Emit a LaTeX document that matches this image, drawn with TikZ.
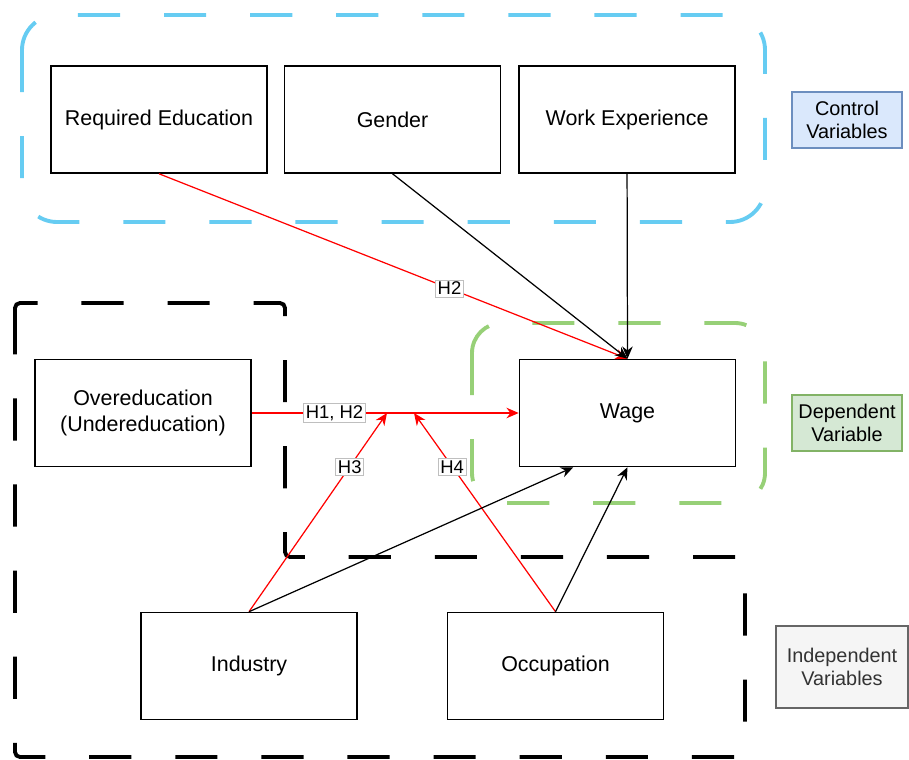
\documentclass[tikz,border=0pt]{standalone}
\usepackage{fontspec}
\setmainfont{Liberation Sans}
\usepackage{xcolor}
\usetikzlibrary{arrows.meta, positioning}
\definecolor{ctrlblue}{RGB}{102,204,242}
\definecolor{depgreen}{RGB}{151,208,119}
\definecolor{ctrlfill}{RGB}{218,232,252}
\definecolor{ctrldraw}{RGB}{108,142,191}
\definecolor{depfill}{RGB}{213,232,212}
\definecolor{depdraw}{RGB}{130,179,102}
\definecolor{indfill}{RGB}{245,245,245}
\definecolor{inddraw}{RGB}{102,102,102}
\definecolor{indtext}{RGB}{51,51,51}

\begin{document}
\begin{tikzpicture}[x=0.02cm, y=-0.02cm,
    font=\fontsize{12.2}{14.4}\selectfont,
    box/.style={rectangle, draw, line width=0.9pt, fill=white, minimum width=4.32cm, minimum height=2.14cm, align=center},
    legend/.style={rectangle, draw, line width=0.6pt, align=center, inner sep=1.5pt, font=\fontsize{11.3}{13.3}\selectfont},
    arrow/.style={-{Stealth[length=7pt,width=6pt]}, line width=0.7pt},
    hyp/.style={arrow, draw=red},
    hyplabel/.style={draw=gray!50, fill=white, line width=0.4pt, inner sep=1.2pt, font=\fontsize{10.5}{12}\selectfont},
    dashframe/.style={line width=2.2pt, dash pattern=on 24pt off 25pt}
]
\useasboundingbox (0,0) rectangle (909,760);

% groups
\draw[dashframe, ctrlblue, rounded corners=0.7cm] (22,15) rectangle (765,222);
\draw[dashframe, rounded corners=0.1cm] (15,330) -- (15,303) -- (285,303) -- (285,557) -- (745,557) -- (745,757) -- (15,757) -- cycle;
\draw[dashframe, depgreen, rounded corners=0.6cm] (472,323) rectangle (765,503);

\node[box] (reqedu) at (159,119.5) {Required Education};
\node[box, right=0.32cm of reqedu] (gender) {Gender};
\node[box, right=0.34cm of gender] (workexp) {Work Experience};
\node[box] (overedu) at (143,413) {Overeducation\\(Undereducation)};
\node[box] (wage) at (627.5,413) {Wage};
\node[box] (industry) at (249,666) {Industry};
\node[box, right=1.78cm of industry] (occupation) {Occupation};

\node[legend, fill=ctrlfill, draw=ctrldraw, minimum width=2.2cm, minimum height=1.12cm] (ctrl) at (847,120) {Control\\Variables};
\node[legend, fill=depfill, draw=depdraw, minimum width=2.2cm, minimum height=1.12cm] (dep) at (847,423) {Dependent\\Variable};
\node[legend, fill=indfill, draw=inddraw, text=indtext, minimum width=2.64cm, minimum height=1.64cm] (indep) at (842,667) {Independent\\Variables};

\coordinate (modind) at (387,413);
\coordinate (modocc) at (414,413);

\draw[hyp] (reqedu.south) -- node[hyplabel, pos=0.62] {H2} (wage.north);
\draw[arrow] (gender.south) -- (wage.north);
\draw[arrow] (workexp.south) -- (wage.north);
\draw[hyp] (overedu) -- node[hyplabel, pos=0.31] {H1, H2} (wage);
\draw[hyp] (industry.north) -- node[hyplabel, pos=0.73] {H3} (modind);
\draw[hyp] (occupation.north) -- node[hyplabel, pos=0.73] {H4} (modocc);
\draw[arrow] (industry.north) -- (wage.-135);
\draw[arrow] (occupation.north) -- (wage.south);

\end{tikzpicture}
\end{document}
